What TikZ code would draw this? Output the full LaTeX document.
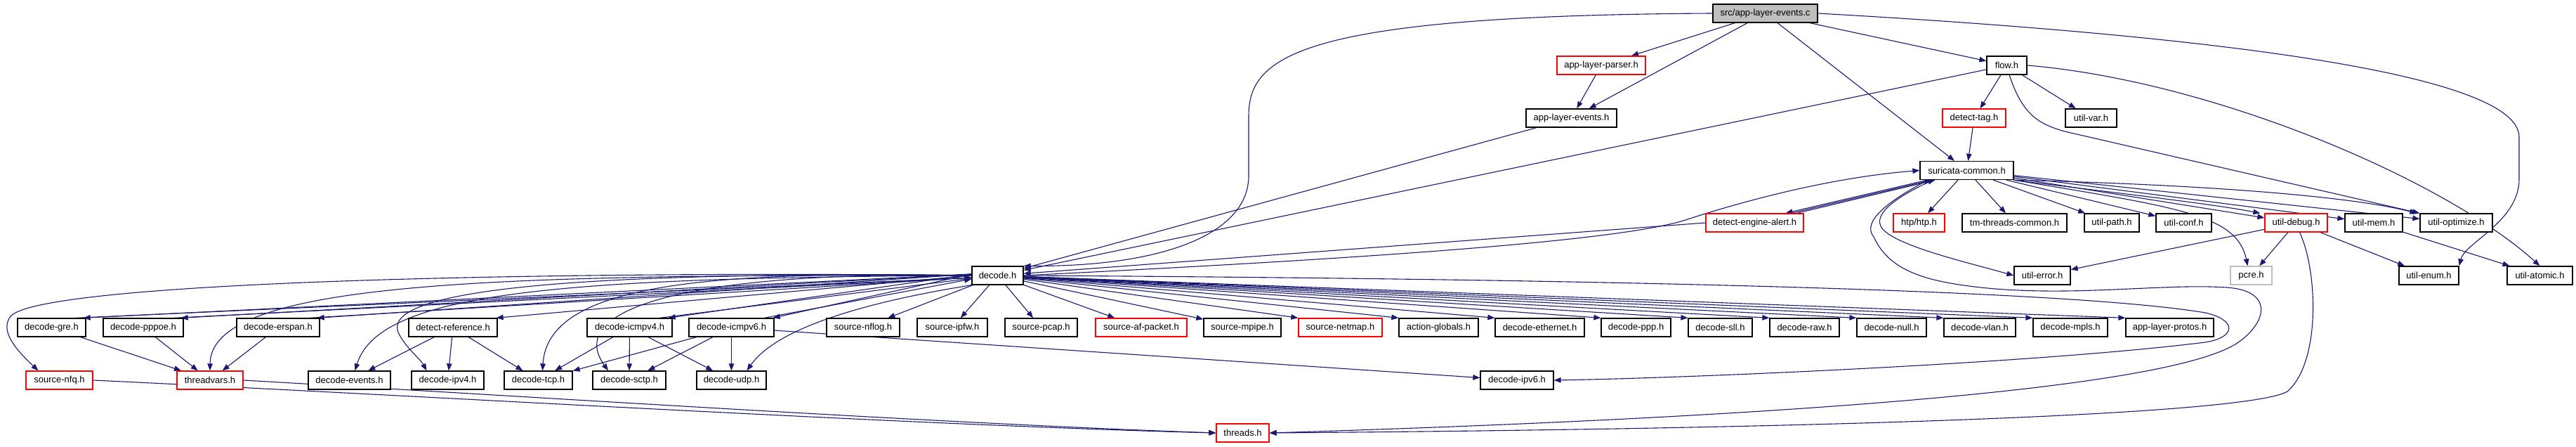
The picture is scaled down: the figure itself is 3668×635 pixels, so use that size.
\documentclass[tikz,border=0pt]{standalone}
\usepackage{fontspec}
\setmainfont{Liberation Sans}
\usetikzlibrary{arrows.meta}
\definecolor{edgec}{HTML}{191970}
\definecolor{nodegray}{HTML}{BFBFBF}
\pgfdeclarelayer{bg}
\pgfsetlayers{bg,main}
\tikzset{
 nb/.style={draw=black, line width=1.3pt, minimum height=26pt, inner sep=0pt, fill=white, font=\fontsize{13}{15}\selectfont},
 nr/.style={nb, draw=red},
 ng/.style={nb, draw=nodegray},
 e/.style={draw=edgec, line width=1.1pt, -{Triangle[length=10pt,width=7.5pt]}},
}
\begin{document}
\begin{tikzpicture}[x=1pt,y=1pt]
\useasboundingbox (0,0) rectangle (3668,635);
% row 0
\node[nb, fill=nodegray, minimum width=149pt] (src) at (2513.5,616) {src/app-layer-events.c};
% row 1
\node[nr, minimum width=126pt] (parser) at (2280,542) {app-layer-parser.h};
\node[nb, minimum width=57pt] (flow) at (2857.5,542) {flow.h};
% row 2
\node[nb, minimum width=129pt] (alevents) at (2237.5,467) {app-layer-events.h};
\node[nr, minimum width=90pt] (dtag) at (2811,467) {detect-tag.h};
\node[nb, minimum width=73pt] (uvar) at (2977.5,467) {util-var.h};
% row 3
\node[nb, minimum width=133pt] (scommon) at (2800.5,392.5) {suricata-common.h};
% row 4
\node[nr, minimum width=139pt] (dea) at (2498.5,318) {detect-engine-alert.h};
\node[nr, minimum width=73pt] (htp) at (2732.5,318) {htp/htp.h};
\node[nb, minimum width=149pt] (tmtc) at (2868.5,318) {tm-threads-common.h};
\node[nb, minimum width=78pt] (upath) at (3007,318) {util-path.h};
\node[nb, minimum width=79pt] (uconf) at (3109.5,318) {util-conf.h};
\node[nr, minimum width=89pt] (udebug) at (3269.5,318) {util-debug.h};
\node[nb, minimum width=82pt] (umem) at (3380,318) {util-mem.h};
\node[nb, minimum width=103pt] (uopt) at (3497.5,318) {util-optimize.h};
% row 5
\node[nb, minimum width=73pt] (decode) at (1420.5,243) {decode.h};
\node[nb, minimum width=80pt] (uerror) at (2908,243) {util-error.h};
\node[ng, minimum width=59pt] (pcre) at (3205.5,243) {pcre.h};
\node[nb, minimum width=85pt] (uenum) at (3458.5,243) {util-enum.h};
\node[nb, minimum width=93pt] (uatomic) at (3616.5,243) {util-atomic.h};
% row 6
\node[nb, minimum width=97pt] (dgre) at (73.5,169) {decode-gre.h};
\node[nb, minimum width=114pt] (dpppoe) at (204,169) {decode-pppoe.h};
\node[nb, minimum width=118pt] (derspan) at (396,169) {decode-erspan.h};
\node[nb, minimum width=126pt] (dref) at (645,169) {detect-reference.h};
\node[nb, minimum width=121pt] (dicmp4) at (896.5,169) {decode-icmpv4.h};
\node[nb, minimum width=121pt] (dicmp6) at (1041.5,169) {decode-icmpv6.h};
\node[nb, minimum width=104pt] (snflog) at (1229,169) {source-nflog.h};
\node[nb, minimum width=100pt] (sipfw) at (1356,169) {source-ipfw.h};
\node[nb, minimum width=103pt] (spcap) at (1482.5,169) {source-pcap.h};
\node[nr, minimum width=130pt] (safp) at (1625,169) {source-af-packet.h};
\node[nb, minimum width=110pt] (smpipe) at (1769,169) {source-mpipe.h};
\node[nr, minimum width=119pt] (snetmap) at (1908.5,169) {source-netmap.h};
\node[nb, minimum width=113pt] (aglob) at (2048.5,169) {action-globals.h};
\node[nb, minimum width=127pt] (deth) at (2192.5,169) {decode-ethernet.h};
\node[nb, minimum width=99pt] (dppp) at (2329.5,169) {decode-ppp.h};
\node[nb, minimum width=91pt] (dsll) at (2449.5,169) {decode-sll.h};
\node[nb, minimum width=99pt] (draw) at (2569.5,169) {decode-raw.h};
\node[nb, minimum width=99pt] (dnull) at (2693.5,169) {decode-null.h};
\node[nb, minimum width=102pt] (dvlan) at (2819,169) {decode-vlan.h};
\node[nb, minimum width=106pt] (dmpls) at (2948,169) {decode-mpls.h};
\node[nb, minimum width=125pt] (alprotos) at (3089.5,169) {app-layer-protos.h};
% row 7
\node[nr, minimum width=95pt] (snfq) at (84.5,94) {source-nfq.h};
\node[nr, minimum width=94pt] (threadvars) at (299,94) {threadvars.h};
\node[nb, minimum width=117pt] (devents) at (497.5,94) {decode-events.h};
\node[nb, minimum width=103pt] (dipv4) at (637.5,94) {decode-ipv4.h};
\node[nb, minimum width=97pt] (dtcp) at (766.5,94) {decode-tcp.h};
\node[nb, minimum width=104pt] (dsctp) at (896,94) {decode-sctp.h};
\node[nb, minimum width=99pt] (dudp) at (1041.5,94) {decode-udp.h};
\node[nb, minimum width=104pt] (dipv6) at (2160,94) {decode-ipv6.h};
% row 8
\node[nr, minimum width=75pt] (threads) at (1769.5,19) {threads.h};

\begin{pgfonlayer}{bg}
\fill[white] (0,0) rectangle (3668,635);
% from src
\draw[e] (src.west) .. controls (1850,613) and (1778,555) .. (1778,470) -- (1778,385) .. controls (1778,300) and (1650,255) .. (decode.north east);
\draw[e] (src) -- (parser);
\draw[e] (src) -- (alevents);
\draw[e] (src) -- (scommon);
\draw[e] (src) -- (flow);
\draw[e] (src.east) .. controls (3050,590) and (3587,540) .. (3587,440) -- (3587,380) .. controls (3587,320) and (3510,290) .. (uenum.north east);
% parser, events, flow
\draw[e] (parser) -- (alevents);
\draw[e] (alevents) -- (decode);
\draw[e] (flow) -- (decode);
\draw[e] (flow) -- (dtag);
\draw[e] (flow) -- (uvar);
\draw[e] (flow.-75) .. controls (2880,470) and (2905,458) .. (2940,448) -- (uopt.north west);
\draw[e] (flow.east) .. controls (3150,520) and (3480,380) .. (uatomic.north);
\draw[e] (dtag) -- (scommon);
% suricata-common and detect-engine-alert
\draw[e] ([xshift=-56]scommon.south) -- ([xshift=44]dea.north);
\draw[e] ([xshift=52]dea.north) -- ([xshift=-50]scommon.south);
\draw[e] ([xshift=60]dea.north) -- ([xshift=-45]scommon.south);
\draw[e] (decode.east) .. controls (1900,265) and (2300,290) .. (2400,322) .. controls (2470,345) and (2600,382) .. (scommon.west);
\draw[e] (dea.west) -- (decode);
% suricata-common fan
\draw[e] (scommon) -- (htp);
\draw[e] (scommon) -- (tmtc);
\draw[e] (scommon) -- (upath);
\draw[e] (scommon) -- (uconf);
\draw[e] (scommon) -- (udebug);
\draw[e] (scommon.south east) .. controls (3000,362) and (3150,345) .. ([xshift=-6]udebug.north west);
\draw[e] (scommon) -- (umem);
\draw[e] (scommon) -- (uopt);
\draw[e] (scommon.south east) .. controls (3150,372) and (3350,355) .. ([xshift=-4]uopt.north west);
\draw[e] (scommon.south east) .. controls (3100,340) and (3185,330) .. ([xshift=-5]pcre.north);
\draw[e] ([xshift=-48]scommon.south) .. controls (2700,355) and (2665,330) .. (2680,310) .. controls (2700,285) and (2800,262) .. (uerror.west);
\draw[e] ([xshift=-55]scommon.south) .. controls (2690,350) and (2650,320) .. (2668,298) .. controls (2690,250) and (2740,235) .. (2820,226) .. controls (2950,212) and (3080,232) .. (3170,226) .. controls (3235,222) and (3230,180) .. (3190,150) .. controls (3100,80) and (2500,40) .. (threads.east);
% util-debug, util-mem
\draw[e] (udebug) -- (uerror);
\draw[e] (udebug) -- (pcre);
\draw[e] (udebug) -- (uenum);
\draw[e] (umem) -- (uatomic);
\draw[e] ([xshift=5]udebug.south) .. controls (3300,250) and (3305,120) .. (3257,78) .. controls (3200,45) and (2600,25) .. (threads.east);
% decode.h loop to ipv6
\draw[e] (decode.east) .. controls (2300,238) and (2950,222) .. (3140,190) .. controls (3185,180) and (3185,155) .. (3140,148) .. controls (2900,118) and (2400,97) .. (dipv6.east);
% decode.h left fan
\draw[e] ([yshift=2]decode.west) -- ([xshift=-4]dgre.north east);
\draw[e] ([xshift=-14]dgre.north east) -- ([yshift=-3]decode.west);
\draw[e] ([yshift=2]decode.west) -- ([xshift=-4]dpppoe.north east);
\draw[e] ([xshift=-14]dpppoe.north east) -- ([yshift=-3]decode.west);
\draw[e] ([yshift=2]decode.west) -- ([xshift=-4]derspan.north east);
\draw[e] ([xshift=-14]derspan.north east) -- ([yshift=-3]decode.west);
\draw[e] (decode.west) -- ([xshift=-2]dref.north east);
\draw[e] ([yshift=2]decode.west) -- ([xshift=-6]dicmp4.north east);
\draw[e] ([xshift=-18]dicmp4.north east) -- ([yshift=-4]decode.west);
\draw[e] ([yshift=2]decode.west) -- ([xshift=-2]dicmp6.north east);
\draw[e] ([xshift=-14]dicmp6.north east) -- ([yshift=-5]decode.west);
% decode.h curves to lower row
\draw[e] (decode.west) .. controls (800,250) and (60,235) .. (15,185) .. controls (0,165) and (20,140) .. ([xshift=-30]snfq.north);
\draw[e] (decode.west) .. controls (700,245) and (300,235) .. (threadvars.north);
\draw[e] (decode.west) .. controls (800,240) and (540,220) .. ([xshift=8]devents.north);
\draw[e] (decode.west) .. controls (750,250) and (540,215) .. (568,160) .. controls (578,140) and (598,125) .. ([xshift=-30]dipv4.north);
\draw[e] (decode.west) .. controls (1000,250) and (780,230) .. ([xshift=6]dtcp.north);
\draw[e] (decode.west) .. controls (1000,250) and (800,200) .. ([xshift=-30]dsctp.north);
\draw[e] (decode.south west) .. controls (1200,200) and (1100,160) .. ([xshift=22]dudp.north);
% decode.h right fan
\draw[e] (decode) -- (snflog);
\draw[e] (decode) -- (sipfw);
\draw[e] (decode) -- (spcap);
\draw[e] (decode) -- (safp);
\draw[e] (decode) -- (smpipe);
\draw[e] (decode) -- (snetmap.north west);
\draw[e] (decode) -- (aglob.north west);
\draw[e] (decode) -- (deth.north west);
\draw[e] (decode) -- (dppp.north west);
\draw[e] (decode) -- (dsll.north west);
\draw[e] (decode) -- (draw.north west);
\draw[e] (decode) -- (dnull.north west);
\draw[e] (decode) -- (dvlan.north west);
\draw[e] (decode) -- (dmpls.north west);
\draw[e] (decode) -- (alprotos.north west);
% row 6 to row 7
\draw[e] (dgre) -- (threadvars);
\draw[e] (dpppoe) -- (threadvars);
\draw[e] (derspan) -- (threadvars);
\draw[e] (dref) -- (devents);
\draw[e] (dref) -- (dipv4);
\draw[e] (dref) -- (dtcp);
\draw[e] (dicmp4) -- (dtcp);
\draw[e] (dicmp4) -- (dsctp);
\draw[e] (dicmp4) -- (dudp);
\draw[e] (dicmp6) -- (dtcp);
\draw[e] (dicmp6) -- (dsctp);
\draw[e] (dicmp6) -- (dudp);
\draw[e] (dicmp6) -- (dipv6);
% to threads
\draw[e] (snfq.east) .. controls (600,72) and (1300,30) .. (threads.west);
\draw[e] (threadvars.east) .. controls (800,68) and (1350,32) .. (threads.west);
\end{pgfonlayer}
\end{tikzpicture}
\end{document}
